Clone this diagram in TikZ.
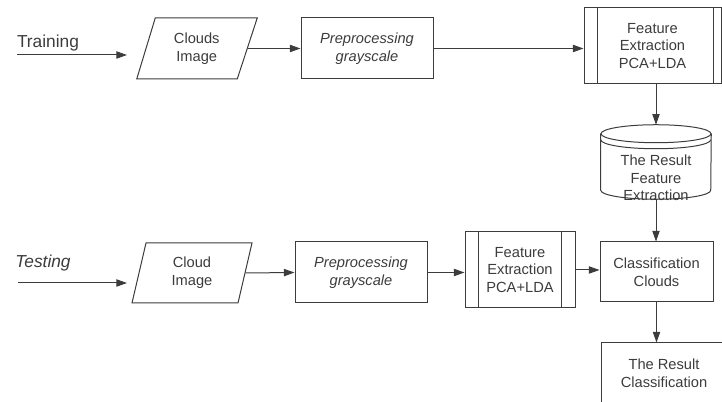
\documentclass[tikz,border=0pt]{standalone}
\usepackage{fontspec}
\setmainfont{Liberation Sans}
\usetikzlibrary{calc,arrows.meta}
\definecolor{ink}{RGB}{60,60,60}
\begin{document}
\begin{tikzpicture}[x=0.75pt,y=-0.75pt,
  every node/.style={text=ink, font=\fontsize{11}{13.2}\selectfont, align=center, inner sep=0pt},
  procbox/.style={draw=ink, line width=0.75pt, minimum width=#1},
  procbox/.default={99pt},
  tall/.style={minimum height=45.75pt},
  lbl/.style={font=\fontsize{13}{15.6}\selectfont},
  shapeline/.style={draw=ink, line width=0.75pt},
  conn/.style={draw=ink, line width=0.75pt, -{Triangle[length=8pt,width=5.5pt]}},
  plain/.style={draw=ink, line width=0.75pt}
]
\useasboundingbox (0,0) rectangle (722,402);

% ---------- Training row ----------
\node[lbl] (trainlbl) at (48,43) {Training};
\coordinate (tstart) at (17,55);
\coordinate (tend) at (127,55);

\node[minimum width=76.5pt, minimum height=45.75pt] (ci1) at (196.75,48.5) {Clouds\\Image};
\draw[shapeline] ($(ci1.center)+(-41.5,-30.5)$) -- ($(ci1.center)+(60.5,-30.5)$)
  -- ($(ci1.center)+(40.5,30.5)$) -- ($(ci1.center)+(-60,30.5)$) -- cycle;

\node[procbox, tall, font=\fontsize{11}{13.2}\selectfont\itshape] (pp1) at (367,48.5) {Preprocessing\\grayscale};

\node[procbox=102.75pt, minimum height=57pt] (fe1) at (652.5,46) {Feature\\Extraction\\PCA+LDA};
\draw[plain] ($(fe1.north west)+(14,0)$) -- ($(fe1.south west)+(14,0)$);
\draw[plain] ($(fe1.north east)+(-8,0)$) -- ($(fe1.south east)+(-8,0)$);

% cylinder
\node[minimum width=82.5pt, minimum height=55.5pt] (cyl) at (656,162) {};
\node (cyltxt) at (656,178) {The Result\\Feature\\Extraction};
\draw[shapeline] ($(cyl.north)+(0,9)$) ellipse [x radius=41.25pt, y radius=6.75pt];
\draw[shapeline] ($(cyl.north west)+(0,15)$) arc[start angle=180, end angle=360, x radius=41.25pt, y radius=6.75pt];
\draw[shapeline] ($(cyl.north west)+(0,9)$) -- ($(cyl.south west)+(0,-9)$)
  arc[start angle=180, end angle=360, x radius=41.25pt, y radius=6.75pt]
  -- ($(cyl.north east)+(0,9)$);

% ---------- Testing row ----------
\node[lbl, font=\fontsize{13}{15.6}\selectfont\itshape] (testlbl) at (43,263) {Testing};
\coordinate (sstart) at (18,283);
\coordinate (send) at (127,283);

\node[minimum width=79.5pt, minimum height=45pt] (ci2) at (192,273) {Cloud\\Image};
\draw[shapeline] ($(ci2.center)+(-46,-30)$) -- ($(ci2.center)+(60,-30)$)
  -- ($(ci2.center)+(46,30)$) -- ($(ci2.center)+(-60,30)$) -- cycle;

\node[procbox, tall, font=\fontsize{11}{13.2}\selectfont\itshape] (pp2) at (361,272.5) {Preprocessing\\grayscale};

\node[procbox=82.5pt, minimum height=57pt] (fe2) at (520,270) {Feature\\Extraction\\PCA+LDA};
\draw[plain] ($(fe2.north west)+(14,0)$) -- ($(fe2.south west)+(14,0)$);
\draw[plain] ($(fe2.north east)+(-14,0)$) -- ($(fe2.south east)+(-14,0)$);

\node[procbox=84.75pt, minimum height=45pt] (cc) at (656.5,272) {Classification\\Clouds};

\node[procbox=94.5pt, tall] (rc) at (664,373.5) {The Result\\Classification};

% ---------- connectors ----------
\draw[conn] (tstart) -- (tend);
\draw[conn] (ci1.east) -- (pp1.west);
\draw[conn] (pp1.east) -- (pp1.east -| fe1.west);
\draw[conn] (fe1.south -| cyl.north) -- (cyl.north);
\draw[conn] (cyl.south) -- (cyl.south |- cc.north);

\draw[conn] (sstart) -- (send);
\draw[conn] (ci2.east) -- (pp2.west);
\draw[conn] (pp2.east) -- (pp2.east -| fe2.west);
\draw[conn] (fe2.east) -- (fe2.east -| cc.west);
\draw[conn] (cc.south) -- (cc.south |- rc.north);
\end{tikzpicture}
\end{document}
